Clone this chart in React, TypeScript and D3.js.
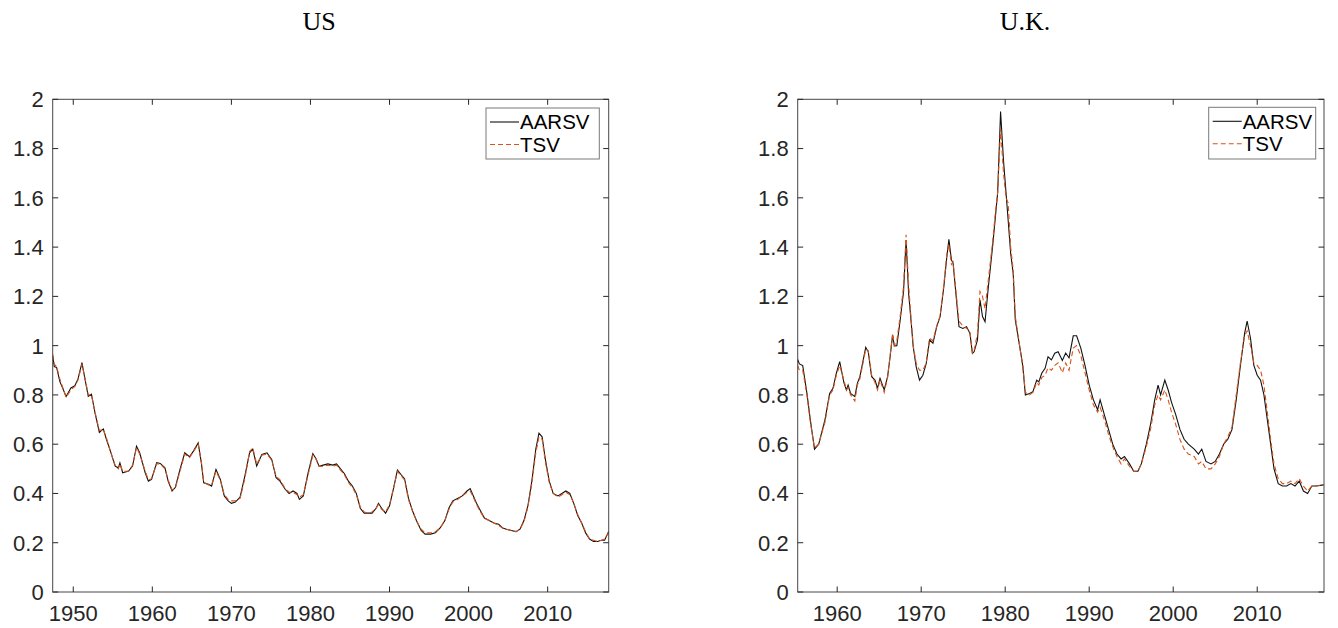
import React from "react";
import * as d3 from "d3";

// ---------- DATA ----------
const usYears = [1947.4,1947.6,1947.9,1948.3,1949.1,1949.7,1950.2,1950.6,1951.1,1951.5,1951.9,1952.3,1952.75,1953.3,1953.8,1954.2,1954.7,1955.3,1955.7,1955.9,1956.25,1957.0,1957.5,1958.0,1958.4,1959.1,1959.5,1959.9,1960.55,1961.0,1961.6,1962.0,1962.5,1962.9,1963.5,1964.1,1964.7,1965.2,1965.8,1966.2,1966.5,1967.1,1967.5,1968.05,1968.6,1969.1,1969.6,1970.0,1970.5,1971.1,1971.7,1972.3,1972.7,1973.2,1973.85,1974.5,1975.1,1975.65,1976.15,1976.8,1977.3,1977.8,1978.3,1978.6,1979.1,1979.7,1980.3,1980.7,1981.1,1981.6,1982.2,1982.8,1983.3,1983.8,1984.3,1984.8,1985.3,1985.8,1986.3,1986.8,1987.3,1987.8,1988.3,1988.6,1989.0,1989.5,1990.0,1990.5,1991.0,1991.5,1991.9,1992.4,1992.9,1993.4,1994.0,1994.5,1995.2,1995.8,1996.4,1997.0,1997.5,1998.0,1998.6,1999.2,1999.8,2000.2,2000.6,2001.0,2001.5,2002.0,2002.6,2003.2,2003.8,2004.3,2004.8,2005.4,2006.0,2006.5,2007.0,2007.5,2008.0,2008.5,2008.9,2009.3,2009.7,2010.2,2010.7,2011.3,2011.8,2012.3,2012.8,2013.3,2013.8,2014.3,2014.8,2015.3,2015.8,2016.3,2016.8,2017.2,2017.7];
const usAARSV = [0.958,0.915,0.911,0.855,0.794,0.828,0.837,0.865,0.931,0.861,0.794,0.803,0.727,0.648,0.662,0.619,0.572,0.511,0.504,0.524,0.484,0.491,0.511,0.592,0.565,0.484,0.45,0.457,0.525,0.522,0.504,0.45,0.41,0.424,0.498,0.565,0.549,0.572,0.605,0.524,0.443,0.437,0.43,0.498,0.457,0.39,0.37,0.36,0.365,0.385,0.47,0.565,0.58,0.511,0.558,0.565,0.538,0.464,0.45,0.417,0.4,0.41,0.4,0.376,0.39,0.484,0.562,0.541,0.51,0.515,0.52,0.515,0.52,0.5,0.48,0.45,0.43,0.4,0.34,0.32,0.32,0.32,0.34,0.36,0.34,0.32,0.35,0.42,0.495,0.475,0.46,0.38,0.33,0.29,0.25,0.235,0.235,0.24,0.26,0.29,0.34,0.37,0.38,0.39,0.41,0.42,0.39,0.36,0.33,0.3,0.29,0.28,0.275,0.26,0.255,0.25,0.245,0.255,0.29,0.35,0.45,0.58,0.645,0.63,0.54,0.45,0.4,0.39,0.4,0.41,0.4,0.36,0.31,0.28,0.24,0.215,0.205,0.205,0.21,0.21,0.245];
const usTSV = [0.965,0.925,0.915,0.865,0.79,0.82,0.835,0.86,0.925,0.865,0.8,0.8,0.73,0.655,0.66,0.625,0.57,0.515,0.5,0.52,0.49,0.49,0.515,0.585,0.56,0.49,0.455,0.46,0.52,0.52,0.5,0.455,0.415,0.42,0.49,0.56,0.545,0.57,0.6,0.53,0.445,0.435,0.435,0.49,0.455,0.395,0.375,0.37,0.37,0.38,0.46,0.57,0.585,0.52,0.555,0.56,0.535,0.47,0.455,0.42,0.405,0.405,0.395,0.385,0.395,0.475,0.555,0.54,0.51,0.51,0.515,0.51,0.515,0.495,0.475,0.445,0.425,0.395,0.345,0.325,0.32,0.325,0.34,0.355,0.335,0.325,0.355,0.42,0.49,0.47,0.455,0.375,0.33,0.29,0.255,0.24,0.24,0.245,0.26,0.29,0.335,0.365,0.375,0.39,0.405,0.41,0.385,0.355,0.325,0.3,0.29,0.28,0.27,0.26,0.255,0.25,0.245,0.255,0.285,0.345,0.44,0.565,0.63,0.62,0.53,0.445,0.4,0.385,0.395,0.405,0.395,0.36,0.315,0.28,0.245,0.215,0.21,0.205,0.21,0.215,0.24];

const ukYears = [1955.3,1955.5,1955.9,1956.4,1956.8,1957.3,1957.8,1958.55,1959.1,1959.5,1959.9,1960.3,1960.8,1961.1,1961.3,1961.6,1962.1,1962.4,1962.7,1962.9,1963.4,1963.7,1964.1,1964.5,1964.8,1965.1,1965.6,1966.0,1966.3,1966.6,1966.8,1967.1,1967.5,1967.9,1968.2,1968.5,1968.75,1969.05,1969.4,1969.8,1970.2,1970.6,1971.0,1971.4,1971.85,1972.25,1972.7,1973.05,1973.3,1973.6,1973.8,1974.2,1974.5,1974.95,1975.4,1975.8,1976.1,1976.3,1976.7,1977.0,1977.3,1977.6,1978.0,1978.5,1978.8,1979.1,1979.45,1979.8,1980.1,1980.35,1980.65,1980.95,1981.2,1981.8,1982.1,1982.4,1982.9,1983.3,1983.75,1984.0,1984.35,1984.75,1985.1,1985.5,1985.9,1986.3,1986.8,1987.2,1987.6,1988.1,1988.5,1989.0,1989.5,1990.0,1990.5,1991.0,1991.3,1991.8,1992.3,1992.8,1993.3,1993.8,1994.2,1994.8,1995.3,1995.8,1996.2,1996.8,1997.3,1997.8,1998.2,1998.5,1999.0,1999.4,1999.8,2000.3,2000.8,2001.3,2001.8,2002.5,2003.0,2003.4,2003.9,2004.5,2005.0,2005.5,2006.0,2006.5,2007.0,2007.5,2008.0,2008.5,2008.8,2009.2,2009.6,2010.0,2010.4,2010.8,2011.2,2011.6,2012.0,2012.5,2013.0,2013.5,2014.0,2014.5,2015.0,2015.5,2016.0,2016.5,2017.0,2017.9];
const ukAARSV = [0.944,0.926,0.919,0.806,0.7,0.58,0.6,0.7,0.806,0.827,0.888,0.935,0.85,0.82,0.84,0.806,0.793,0.847,0.874,0.908,0.993,0.975,0.874,0.86,0.827,0.867,0.82,0.874,0.955,1.043,0.999,1.0,1.104,1.219,1.429,1.213,1.118,0.996,0.915,0.86,0.88,0.928,1.023,1.01,1.077,1.118,1.24,1.36,1.432,1.348,1.334,1.186,1.077,1.07,1.077,1.05,0.969,0.975,1.023,1.186,1.118,1.097,1.24,1.402,1.51,1.62,1.95,1.75,1.62,1.51,1.375,1.294,1.104,0.982,0.915,0.8,0.806,0.813,0.86,0.853,0.888,0.908,0.955,0.942,0.969,0.975,0.94,0.97,0.95,1.04,1.04,0.99,0.92,0.84,0.78,0.74,0.78,0.72,0.66,0.6,0.56,0.54,0.55,0.52,0.49,0.49,0.52,0.6,0.68,0.78,0.84,0.8,0.86,0.82,0.77,0.72,0.66,0.62,0.6,0.58,0.56,0.58,0.53,0.52,0.53,0.56,0.6,0.62,0.66,0.78,0.92,1.05,1.1,1.03,0.92,0.88,0.86,0.8,0.7,0.6,0.5,0.44,0.43,0.43,0.44,0.43,0.45,0.41,0.4,0.43,0.43,0.435];
const ukTSV = [0.92,0.9,0.9,0.8,0.69,0.585,0.6,0.69,0.8,0.82,0.88,0.92,0.86,0.82,0.83,0.8,0.775,0.84,0.865,0.9,0.985,0.98,0.88,0.85,0.82,0.86,0.81,0.87,0.96,1.05,1.0,1.02,1.12,1.24,1.45,1.25,1.13,1.0,0.93,0.9,0.9,0.93,1.03,1.02,1.08,1.12,1.25,1.37,1.41,1.33,1.34,1.2,1.1,1.08,1.07,1.06,0.97,0.98,1.05,1.22,1.2,1.15,1.27,1.42,1.53,1.62,1.88,1.7,1.6,1.58,1.4,1.31,1.12,0.98,0.92,0.81,0.8,0.81,0.85,0.84,0.87,0.88,0.91,0.9,0.92,0.93,0.89,0.93,0.9,0.99,1.0,0.96,0.89,0.82,0.76,0.73,0.75,0.7,0.64,0.59,0.55,0.52,0.54,0.51,0.49,0.49,0.52,0.59,0.66,0.76,0.8,0.78,0.82,0.78,0.73,0.68,0.62,0.58,0.56,0.55,0.52,0.53,0.5,0.5,0.52,0.55,0.6,0.63,0.67,0.8,0.93,1.04,1.06,1.0,0.93,0.92,0.9,0.84,0.73,0.62,0.52,0.46,0.44,0.44,0.45,0.44,0.46,0.43,0.41,0.43,0.43,0.435];

const yTicks = [0, 0.2, 0.4, 0.6, 0.8, 1, 1.2, 1.4, 1.6, 1.8, 2];
const usXTicks = [1950, 1960, 1970, 1980, 1990, 2000, 2010];
const ukXTicks = [1960, 1970, 1980, 1990, 2000, 2010];
const seriesNames = ["AARSV", "TSV"];
const titles = ["US", "U.K."];

// ---------- STYLE ----------
const AXIS = "#262626";
const BLACK = "#111111";
const ORANGE = "#D95319";
const FONT = "'Liberation Sans', Arial, sans-serif";

type PanelProps = {
  title: string;
  titleX: number;
  left: number;
  right: number;
  domain: [number, number];
  years: number[];
  a: number[];
  b: number[];
  xTicks: number[];
  legend: { x0: number; x1: number; y0: number; y1: number };
};

const TOP = 99.3;
const BOTTOM = 592;

function Panel(p: PanelProps) {
  const x = d3.scaleLinear().domain(p.domain).range([p.left, p.right]);
  const y = d3.scaleLinear().domain([0, 2]).range([BOTTOM, TOP]);
  const line = d3
    .line<number>()
    .x((_, i) => x(p.years[i]))
    .y((d) => y(d));
  const tl = 5.5;
  const lg = p.legend;
  const row1 = lg.y0 + 14;
  const row2 = lg.y0 + 36.5;
  return (
    <g>
      <text
        x={p.titleX}
        y={30}
        textAnchor="middle"
        fontFamily="'Liberation Serif', 'DejaVu Serif', serif"
        fontSize={26}
        fill="#000"
      >
        {p.title}
      </text>
      <defs>
        <clipPath id={"clip-" + p.title}>
          <rect x={p.left} y={TOP} width={p.right - p.left} height={BOTTOM - TOP} />
        </clipPath>
      </defs>
      <g clipPath={`url(#clip-${p.title})`}>
        <path d={line(p.a) || ""} fill="none" stroke={BLACK} strokeWidth={1.1} />
        <path d={line(p.b) || ""} fill="none" stroke={ORANGE} strokeWidth={1.1} strokeDasharray="5,3" />
      </g>
      <rect
        x={p.left}
        y={TOP}
        width={p.right - p.left}
        height={BOTTOM - TOP}
        fill="none"
        stroke={AXIS}
        strokeWidth={1}
        opacity={0.85}
      />
      {yTicks.map((t) => (
        <g key={"y" + t}>
          <line x1={p.left} x2={p.left + tl} y1={y(t)} y2={y(t)} stroke={AXIS} />
          <line x1={p.right} x2={p.right - tl} y1={y(t)} y2={y(t)} stroke={AXIS} />
          <text
            x={p.left - 9}
            y={y(t)}
            dy="0.36em"
            textAnchor="end"
            fontFamily={FONT}
            fontSize={22}
            fill={AXIS}
          >
            {String(t)}
          </text>
        </g>
      ))}
      {p.xTicks.map((t) => (
        <g key={"x" + t}>
          <line x1={x(t)} x2={x(t)} y1={BOTTOM} y2={BOTTOM - tl} stroke={AXIS} />
          <line x1={x(t)} x2={x(t)} y1={TOP} y2={TOP + tl} stroke={AXIS} />
          <text
            x={x(t)}
            y={BOTTOM + 29}
            textAnchor="middle"
            fontFamily={FONT}
            fontSize={22}
            fill={AXIS}
          >
            {t}
          </text>
        </g>
      ))}
      <rect
        x={lg.x0}
        y={lg.y0}
        width={lg.x1 - lg.x0}
        height={lg.y1 - lg.y0}
        fill="#fff"
        stroke="#7a7a7a"
        strokeWidth={1}
      />
      <line x1={lg.x0 + 4} x2={lg.x0 + 33} y1={row1} y2={row1} stroke={BLACK} strokeWidth={1.1} />
      <line
        x1={lg.x0 + 4}
        x2={lg.x0 + 33}
        y1={row2}
        y2={row2}
        stroke={ORANGE}
        strokeWidth={1.1}
        strokeDasharray="5,3"
      />
      <text x={lg.x0 + 34} y={row1} dy="0.36em" fontFamily={FONT} fontSize={20.5} fill="#000">
        {seriesNames[0]}
      </text>
      <text x={lg.x0 + 34} y={row2} dy="0.36em" fontFamily={FONT} fontSize={20.5} fill="#000">
        {seriesNames[1]}
      </text>
    </g>
  );
}

export default function App() {
  return (
    <svg
      width={1338}
      height={628}
      style={{ position: "absolute", left: 0, top: 0, background: "#fff" }}
    >
      <Panel
        title={titles[0]}
        titleX={319}
        left={52.7}
        right={608.7}
        domain={[1947.4, 2017.72]}
        years={usYears}
        a={usAARSV}
        b={usTSV}
        xTicks={usXTicks}
        legend={{ x0: 486, x1: 599.3, y0: 108, y1: 159 }}
      />
      <Panel
        title={titles[1]}
        titleX={1025}
        left={797.7}
        right={1324}
        domain={[1955.3, 2017.95]}
        years={ukYears}
        a={ukAARSV}
        b={ukTSV}
        xTicks={ukXTicks}
        legend={{ x0: 1208.7, x1: 1315.7, y0: 107.3, y1: 159 }}
      />
    </svg>
  );
}
